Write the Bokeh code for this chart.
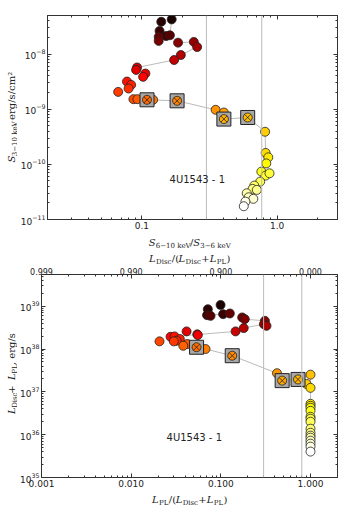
import math
from bokeh.plotting import figure
from bokeh.models import (Span, Label, LogAxis, CustomJSTickFormatter, Range1d,
                          FixedTicker, LogTickFormatter)
from bokeh.layouts import column, row
from bokeh.embed import file_html
from bokeh.resources import INLINE

# ---------------- data: top panel (hardness vs flux) ----------------
top_hr = [0.166, 0.139, 0.135, 0.151, 0.161, 0.133, 0.133, 0.185, 0.242, 0.256,
          0.194, 0.173, 0.092, 0.0905, 0.106, 0.102, 0.0775, 0.0832, 0.0796, 0.0667,
          0.0865, 0.0925, 0.109, 0.121, 0.182, 0.351, 0.404, 0.404, 0.606, 0.815,
          0.823, 0.861, 0.832, 0.765, 0.823, 0.879, 0.750, 0.678, 0.659, 0.708,
          0.596, 0.616, 0.667, 0.583, 0.567]
top_flux = [4.25e-8, 3.85e-8, 2.62e-8, 2.12e-8, 2.19e-8, 2.04e-8, 1.73e-8, 1.61e-8, 1.66e-8, 1.34e-8,
            9.6e-9, 7.8e-9, 5.7e-9, 5.15e-9, 4.43e-9, 3.86e-9, 3.17e-9, 2.76e-9, 2.37e-9, 2.06e-9,
            1.52e-9, 1.52e-9, 1.48e-9, 1.48e-9, 1.42e-9, 9.75e-10, 8.7e-10, 6.62e-10, 7.08e-10, 3.9e-10,
            1.61e-10, 1.34e-10, 1.04e-10, 7.38e-11, 6.25e-11, 6.88e-11, 4.86e-11, 4.12e-11, 3.59e-11, 3.44e-11,
            2.99e-11, 2.53e-11, 2.37e-11, 2.11e-11, 1.74e-11]
top_squares = [22, 24, 27, 28]
top_tracks = [[0, 4, 7, 8, 9, 10, 11, 12],
              [20, 22, 24, 25, 27, 28, 29, 30, 31, 33, 36, 38, 41, 44]]
top_vlines = [0.3, 0.77]
top_xticks = [0.1, 1.0]
top_yticks = [1e-11, 1e-10, 1e-9, 1e-8]

# ---------------- data: bottom panel (PL fraction vs luminosity) ----------------
bot_frac = [0.0993, 0.0716, 0.106, 0.0702, 0.0768, 0.126, 0.173, 0.185, 0.310, 0.302,
            0.323, 0.180, 0.146, 0.0546, 0.0415, 0.0554, 0.0275, 0.0305, 0.0349, 0.0321,
            0.0299, 0.0207, 0.0422, 0.0381, 0.0536, 0.0675, 0.134, 0.423, 0.483, 0.726,
            1.0, 0.902, 1.0,
            1.0, 1.0, 1.0, 1.0, 1.0, 1.0, 1.0, 1.0, 1.0, 1.0, 1.0, 1.0, 1.0, 1.0, 1.0]
bot_lum = [1.07e39, 8.5e38, 6.52e38, 6.18e38, 5.95e38, 6.76e38, 5.46e38, 4.99e38, 4.55e38, 3.81e38,
           3.48e38, 3.08e38, 2.58e38, 2.20e38, 2.58e38, 2.12e38, 1.93e38, 1.97e38, 1.71e38, 1.56e38,
           1.51e38, 1.51e38, 1.31e38, 1.19e38, 1.10e38, 1.0e38, 6.98e37, 2.72e37, 1.83e37, 1.95e37,
           2.52e37, 1.53e37, 1.24e37,
           5.26e36, 4.72e36, 4.25e36, 3.61e36, 2.62e36, 2.36e36, 2.01e36, 1.38e36, 1.11e36, 9.5e35,
           8.5e35, 7.25e35, 6.18e35, 5.26e35, 4.03e35]
bot_squares = [24, 26, 28, 29]
bot_tracks = [[3, 5], [7, 8, 10], [11, 9], [16, 12],
              [22, 24, 25, 26, 27, 28, 29, 30, 32, 33, 47]]
bot_vlines = [0.3, 0.8]
bot_xticks = [0.001, 0.01, 0.1, 1.0]
bot_yticks = [1e35, 1e36, 1e37, 1e38, 1e39]

source_name = "4U1543 - 1"

# axis label pieces: (text, kind) where kind = "main" or "sub"
top_xlabel = [("S", "main"), ("6−10 keV", "sub"), ("/", "main"), ("S", "main"), ("3−6 keV", "sub")]
top_ylabel = [("S", "main"), ("3−10 keV", "sub"), (", erg/s/cm²", "main")]
bot_xlabel = [("L", "main"), ("PL", "sub"), ("/(", "main"), ("L", "main"), ("Disc", "sub"),
              ("+", "main"), ("L", "main"), ("PL", "sub"), (")", "main")]
bot_toplabel = [("L", "main"), ("Disc", "sub"), ("/(", "main"), ("L", "main"), ("Disc", "sub"),
                ("+", "main"), ("L", "main"), ("PL", "sub"), (")", "main")]
bot_ylabel = [("L", "main"), ("Disc", "sub"), (" + ", "main"), ("L", "main"), ("PL", "sub"),
              (", erg/s", "main")]


def hot(t):
    r = min(1.0, t / 0.365)
    g = min(1.0, max(0.0, (t - 0.365) / 0.381))
    b = min(1.0, max(0.0, (t - 0.746) / 0.254))
    return "#%02x%02x%02x" % (int(r * 255), int(g * 255), int(b * 255))


def colors(n):
    return [hot(0.04 + 0.96 * i / (n - 1)) for i in range(n)]


def decade_minor(lo, hi):
    out = []
    for k in range(lo, hi + 1):
        for m in range(2, 10):
            out.append(m * 10.0 ** k)
    return out


EMPTY_FMT = CustomJSTickFormatter(code="return '';")


def style_axis(ax, labels=True, size="9px", standoff=2):
    ax.major_tick_in = 4
    ax.major_tick_out = 0
    ax.minor_tick_in = 2
    ax.minor_tick_out = 0
    ax.axis_line_color = "#333333"
    ax.major_tick_line_color = "#333333"
    ax.minor_tick_line_color = "#333333"
    ax.major_label_text_font = "DejaVu Sans"
    ax.major_label_text_color = "#222222"
    if labels:
        ax.major_label_text_font_size = size
        ax.major_label_standoff = standoff
    else:
        ax.formatter = EMPTY_FMT
        ax.major_label_text_font_size = "1px"
        ax.major_label_standoff = 0


def char_w(c):
    if c in "il/(),. |":
        return 0.34
    if c in "m":
        return 0.95
    if c in "+−":
        return 0.84
    if c.isupper():
        return 0.70
    return 0.60


MAIN_PX, SUB_PX = 10, 7


def text_w(s, px):
    return sum(char_w(c) for c in s) * px


def strip(w, h):
    s = figure(width=w, height=h, x_range=Range1d(0, w), y_range=Range1d(0, h),
               x_axis_location=None, y_axis_location=None, toolbar_location=None,
               output_backend="svg", min_border=0, outline_line_color=None)
    s.grid.visible = False
    return s


def rich_label(p, pieces, cx, cy, vertical=False):
    """cx, cy: data coords in a strip; centre along the text, baseline across it."""
    total = sum(text_w(t, MAIN_PX if k == "main" else SUB_PX) for t, k in pieces)
    pos = -total / 2.0
    for t, k in pieces:
        px = MAIN_PX if k == "main" else SUB_PX
        shift = 0 if k == "main" else 3
        italic = (k == "main" and t.strip() in ("S", "L"))
        if vertical:
            x, y, ang = cx + shift, cy + pos, math.pi / 2
        else:
            x, y, ang = cx + pos, cy - shift, 0
        p.add_layout(Label(x=x, y=y, text=t, angle=ang,
                           text_font="DejaVu Serif", text_font_size="%dpx" % px,
                           text_font_style="italic" if italic else "normal",
                           text_color="#222222", text_baseline="alphabetic", text_align="left"))
        pos += text_w(t, px)


def draw(p, xs, ys, squares, tracks):
    for tr in tracks:
        p.line([xs[i] for i in tr], [ys[i] for i in tr], line_color="#bbbbbb", line_width=1)
    cols = colors(len(xs))
    circ = [i for i in range(len(xs)) if i not in squares]
    p.scatter([xs[i] for i in circ], [ys[i] for i in circ], size=9,
              fill_color=[cols[i] for i in circ], line_color="#222222", line_width=0.8)
    p.scatter([xs[i] for i in squares], [ys[i] for i in squares], marker="square", size=14,
              fill_color="#a8a8a8", line_color="#222222", line_width=1)
    p.scatter([xs[i] for i in squares], [ys[i] for i in squares], marker="circle_x", size=9,
              fill_color=[cols[i] for i in squares], line_color="#222222", line_width=0.8)


STRIP_W = 17
PANEL_W = 324
FULL_W = STRIP_W + PANEL_W
STRIP_H = 16


def panel(height, xr, yr, xticks, yticks, xminor, yminor, xfmt, btop, bbot, top_fmt=None):
    p = figure(width=PANEL_W, height=height, x_axis_type="log", y_axis_type="log",
               x_range=xr, y_range=yr, output_backend="svg", toolbar_location=None,
               min_border_left=24, min_border_right=4, min_border_top=btop, min_border_bottom=bbot)
    p.grid.visible = False
    p.outline_line_color = "#333333"
    p.xaxis.ticker = FixedTicker(ticks=xticks, minor_ticks=xminor)
    p.xaxis.formatter = CustomJSTickFormatter(code=xfmt)
    p.yaxis.ticker = FixedTicker(ticks=yticks, minor_ticks=yminor)
    p.yaxis.formatter = LogTickFormatter()
    style_axis(p.xaxis[0]); style_axis(p.yaxis[0])
    ra = LogAxis(ticker=FixedTicker(ticks=yticks, minor_ticks=yminor))
    style_axis(ra, labels=False)
    p.add_layout(ra, "right")
    ta = LogAxis(ticker=FixedTicker(ticks=xticks, minor_ticks=xminor))
    if top_fmt is None:
        style_axis(ta, labels=False)
    else:
        style_axis(ta, size="8px", standoff=0)
        ta.formatter = CustomJSTickFormatter(code=top_fmt)
    p.add_layout(ta, "above")
    return p


# ---------------- top figure ----------------
p1 = panel(232, Range1d(0.02, 2.8), Range1d(1e-11, 5e-8), top_xticks, top_yticks,
           decade_minor(-2, 0), decade_minor(-11, -8), "return tick.toFixed(1);", 15, 13)
for v in top_vlines:
    p1.add_layout(Span(location=v, dimension="height", line_color="#bbbbbb", line_width=1))
draw(p1, top_hr, top_flux, top_squares, top_tracks)
p1.add_layout(Label(x=0.16, y=5.3e-11, text=source_name, text_font="DejaVu Sans",
                    text_font_size="10px", text_baseline="middle", text_color="#222222"))

yl1 = strip(STRIP_W, 232)
rich_label(yl1, top_ylabel, 11, 115, vertical=True)
xl1 = strip(FULL_W, STRIP_H)
rich_label(xl1, top_xlabel, 189, 6)

# ---------------- bottom figure ----------------
tl2 = strip(FULL_W, STRIP_H)
rich_label(tl2, bot_toplabel, 189, 6)

p2 = panel(226, Range1d(0.001, 2.0), Range1d(1e35, 5.5e39), bot_xticks, bot_yticks,
           decade_minor(-3, 0), decade_minor(35, 39), "return tick.toFixed(3);", 9, 13,
           top_fmt="return (1 - tick).toFixed(3);")
for v in bot_vlines:
    p2.add_layout(Span(location=v, dimension="height", line_color="#bbbbbb", line_width=1))
draw(p2, bot_frac, bot_lum, bot_squares, bot_tracks)
p2.add_layout(Label(x=0.0248, y=8.5e35, text=source_name, text_font="DejaVu Sans",
                    text_font_size="10px", text_baseline="middle", text_color="#222222"))

yl2 = strip(STRIP_W, 226)
rich_label(yl2, bot_ylabel, 11, 115, vertical=True)
xl2 = strip(FULL_W, STRIP_H)
rich_label(xl2, bot_xlabel, 189, 7)

layout = column(row(yl1, p1, spacing=0), xl1, tl2, row(yl2, p2, spacing=0), xl2, spacing=0)
open("out.html", "w").write(file_html(layout, INLINE))
